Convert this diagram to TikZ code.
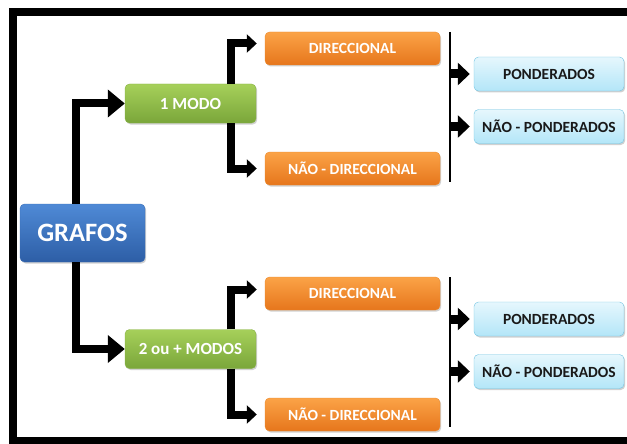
\documentclass[tikz,border=0pt]{standalone}
\usepackage{fontspec}
\setmainfont{Carlito}
\usetikzlibrary{arrows.meta,shadows,calc}

\definecolor{blueTop}{HTML}{4F8AD6}
\definecolor{blueBot}{HTML}{2D5EA6}
\definecolor{blueLine}{HTML}{3A6DB5}
\definecolor{greenTop}{HTML}{A6D05A}
\definecolor{greenBot}{HTML}{7AA63A}
\definecolor{greenLine}{HTML}{86B044}
\definecolor{orangeTop}{HTML}{FBA347}
\definecolor{orangeBot}{HTML}{E6761C}
\definecolor{orangeLine}{HTML}{EB8A2E}
\definecolor{cyanTop}{HTML}{E6F7FD}
\definecolor{cyanBot}{HTML}{B3E6F8}
\definecolor{cyanLine}{HTML}{72C4E2}

\tikzset{
  box/.style={rounded corners=4.5pt, inner sep=0pt, font=\bfseries,
    drop shadow={shadow xshift=1.2pt, shadow yshift=-1.5pt, opacity=0.3, fill=black!60}},
  rootbox/.style={box, draw=blueLine, top color=blueTop, bottom color=blueBot,
    text=white, minimum width=125pt, minimum height=58pt, font=\bfseries\fontsize{26.5}{30}\selectfont},
  modebox/.style={box, draw=greenLine, top color=greenTop, bottom color=greenBot,
    text=white, minimum width=131pt, minimum height=39pt, font=\bfseries\fontsize{17}{20}\selectfont},
  dirbox/.style={box, draw=orangeLine, top color=orangeTop, bottom color=orangeBot,
    text=white, minimum width=175pt, minimum height=33pt, font=\bfseries\fontsize{15.5}{18}\selectfont},
  weightbox/.style={box, draw=cyanLine, top color=cyanTop, bottom color=cyanBot,
    text=black!90, minimum width=150pt, minimum height=34pt, font=\bfseries\fontsize{15.5}{18}\selectfont},
  rootarrow/.style={line width=8pt, -{Triangle[length=17pt, width=27pt]}},
  brancharrow/.style={line width=8pt, -{Triangle[length=10pt, width=18pt]}, shorten >=8pt},
  sidearrow/.style={line width=9pt, -{Triangle[length=12pt, width=22pt]}, shorten >=4pt},
  splitline/.style={line width=2pt},
  frameline/.style={line width=8pt, line join=miter}
}

\begin{document}
\begin{tikzpicture}[x=1pt, y=-1pt]
  \useasboundingbox (0,0) rectangle (627,444);

  % outer frame (open on the right)
  \draw[frameline] (630,12) -- (12.5,12) -- (12.5,440.5) -- (630,440.5);

  % nodes
  \node[rootbox]   (grafos) at (82.5,233)   {GRAFOS};
  \node[modebox]   (m1)     at (190.5,103.5) {1 MODO};
  \node[modebox]   (m2)     at (190.5,349)   {2 ou + MODOS};
  \node[dirbox]    (d1)     at (352.5,48.5)  {DIRECCIONAL};
  \node[dirbox]    (n1)     at (352.5,168.5) {NÃO - DIRECCIONAL};
  \node[dirbox]    (d2)     at (352.5,293.5) {DIRECCIONAL};
  \node[dirbox]    (n2)     at (352.5,414.5) {NÃO - DIRECCIONAL};
  \node[weightbox] (p1)     at (549,74)      {PONDERADOS};
  \node[weightbox] (q1)     at (549,126.5)   {NÃO - PONDERADOS};
  \node[weightbox] (p2)     at (549,319)     {PONDERADOS};
  \node[weightbox] (q2)     at (549,371.5)   {NÃO - PONDERADOS};

  % vertical guides for the elbow connectors
  \coordinate (gx) at (76,0);
  \coordinate (mx) at (231,0);

  % GRAFOS to the two mode boxes
  \draw[rootarrow] (grafos.north -| gx) |- (m1.west);
  \draw[rootarrow] (grafos.south -| gx) |- (m2.west);

  % mode boxes to direction boxes
  \draw[brancharrow] (m1.north -| mx) |- ([yshift=5pt]d1.west);
  \draw[brancharrow] (m1.south -| mx) |- (n1.west);
  \draw[brancharrow] (m2.north -| mx) |- ([yshift=4pt]d2.west);
  \draw[brancharrow] (m2.south -| mx) |- (n2.west);

  % split lines feeding the weight boxes
  \coordinate (s1a) at (450,32);
  \coordinate (s1b) at (450,182);
  \coordinate (s2a) at (450,277);
  \coordinate (s2b) at (450,427);
  \draw[splitline] (s1a) -- (s1b);
  \draw[splitline] (s2a) -- (s2b);

  \draw[sidearrow] (s1a |- p1.west) -- (p1.west);
  \draw[sidearrow] (s1a |- q1.west) -- (q1.west);
  \draw[sidearrow] (s2a |- p2.west) -- (p2.west);
  \draw[sidearrow] (s2a |- q2.west) -- (q2.west);
\end{tikzpicture}
\end{document}
